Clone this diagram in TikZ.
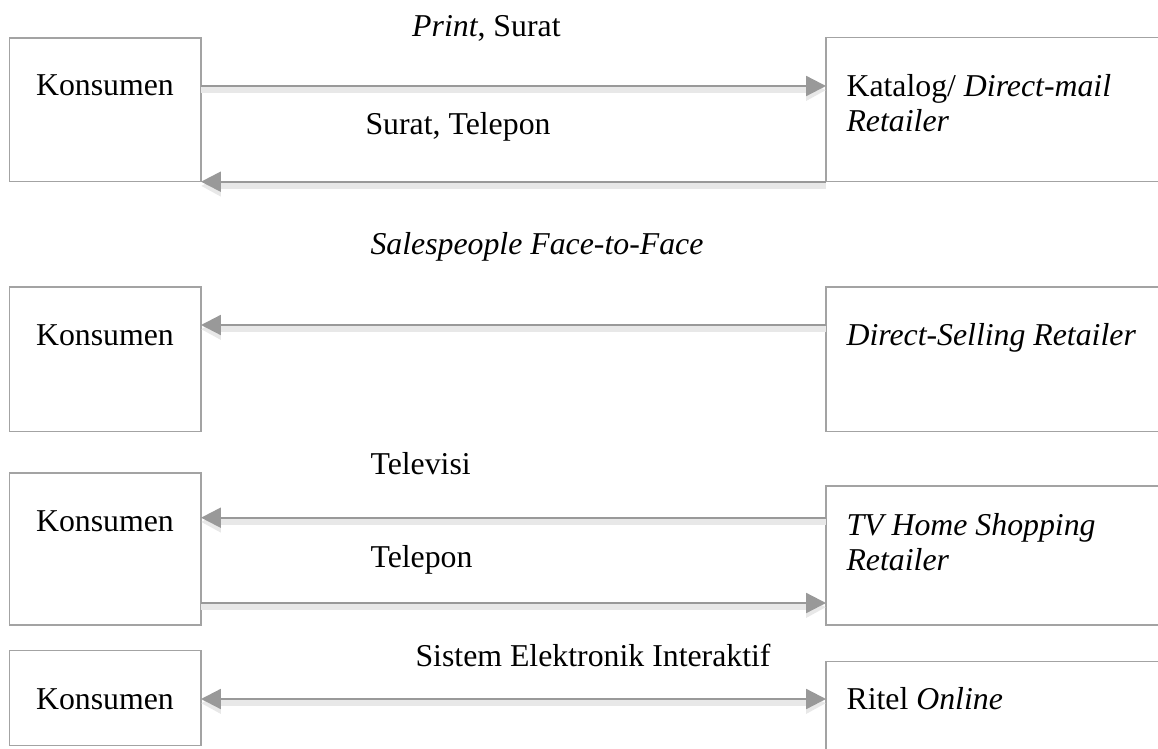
\documentclass[tikz,border=0pt]{standalone}
\usepackage{fontspec}
\setmainfont{Liberation Serif}
\usetikzlibrary{arrows.meta,fit}
\definecolor{boxgray}{HTML}{A3A3A3}
\definecolor{linegray}{HTML}{999999}
\begin{document}
\begin{tikzpicture}[x=0.3774pt, y=-0.3774pt,
  box/.style={draw=boxgray, line width=0.6pt, inner sep=0pt, outer sep=0pt},
  txt/.style={inner sep=0pt, font=\fontsize{12}{13.5}\selectfont, align=left},
  conn/.style={draw=linegray, line width=0.85pt, -{Triangle[length=7.5pt,width=7.5pt]},
    preaction={draw=black!9, line width=2.2pt, transform canvas={yshift=-1.6pt}}},
  bothconn/.style={conn, {Triangle[length=7.5pt,width=7.5pt]}-{Triangle[length=7.5pt,width=7.5pt]}}]
\useasboundingbox (0,0) rectangle (1158,749);
\clip (0,0) rectangle (1158,749);

% Katalog / direct-mail
\node[box, fit={(9.5,38) (201,181.7)}] (k1) {};
\node[box, fit={(826,37.5) (1180,181.7)}] (r1) {};
\node[txt, anchor=base] (k1t) at (105,96) {Konsumen};
% multi-line: base is the last line
\node[txt, anchor=base west] (r1t) at (846,131.8) {Katalog/ \textit{Direct-mail}\\\textit{Retailer}};
\node[txt, anchor=base west] (l1a) at (411.7,37) {\textit{Print}, Surat};
\node[txt, anchor=base west] (l1b) at (365,135) {Surat, Telepon};
\draw[conn] (k1.east |- 0,86) -- (r1.west |- 0,86);
\draw[conn] (r1.south west) -- (k1.south east);

% Direct selling
\node[box, fit={(9.5,287) (201,431.7)}] (k2) {};
\node[box, fit={(826,287) (1180,431.7)}] (r2) {};
\node[txt, anchor=base] (k2t) at (105,346) {Konsumen};
\node[txt, anchor=base west] (r2t) at (846,346) {\textit{Direct-Selling Retailer}};
\node[txt, anchor=base west] (l2) at (370,255) {\textit{Salespeople Face-to-Face}};
\draw[conn] (r2.west |- 0,325) -- (k2.east |- 0,325);

% TV home shopping
\node[box, fit={(9.5,473) (201,625)}] (k3) {};
\node[box, fit={(826,486) (1180,625)}] (r3) {};
\node[txt, anchor=base] (k3t) at (105,531) {Konsumen};
\node[txt, anchor=base west] (r3t) at (846,570.8) {\textit{TV Home Shopping}\\\textit{Retailer}};
\node[txt, anchor=base west] (l3a) at (370,475) {Televisi};
\node[txt, anchor=base west] (l3b) at (370,567) {Telepon};
\draw[conn] (r3.west |- 0,517.7) -- (k3.east |- 0,517.7);
\draw[conn] (k3.east |- 0,603) -- (r3.west |- 0,603);

% Online
\node[box, fit={(9.5,650.7) (201,745.7)}] (k4) {};
\node[box, fit={(826,661.7) (1180,780)}] (r4) {};
\node[txt, anchor=base] (k4t) at (105,709) {Konsumen};
\node[txt, anchor=base west] (r4t) at (846,709) {Ritel \textit{Online}};
\node[txt, anchor=base west] (l4) at (415,666) {Sistem Elektronik Interaktif};
\draw[bothconn] (k4.east |- 0,699) -- (r4.west |- 0,699);

\end{tikzpicture}
\end{document}
